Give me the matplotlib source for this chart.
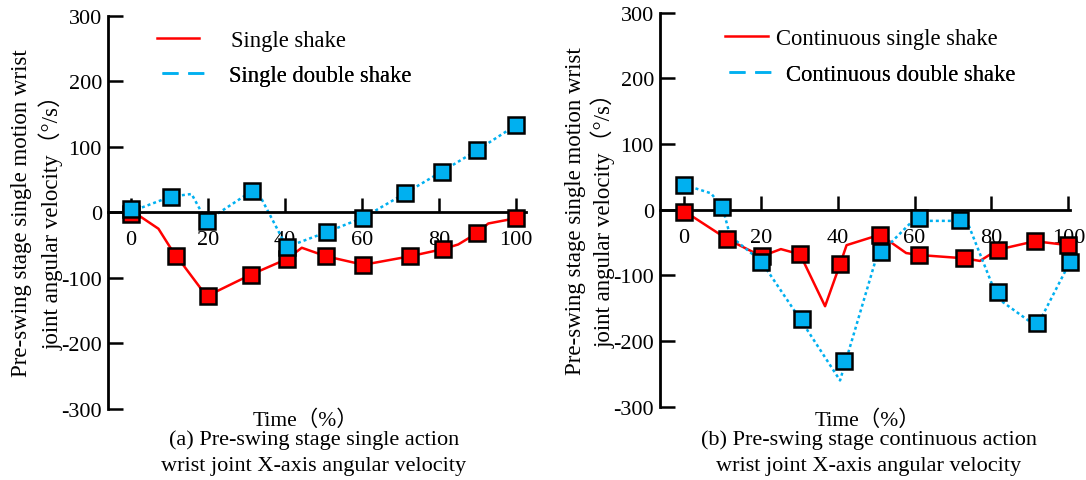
import numpy as np
import matplotlib
matplotlib.use("Agg")
import matplotlib.pyplot as plt
from matplotlib.lines import Line2D

plt.rcParams['font.family'] = ['Liberation Serif', 'Noto Sans CJK SC']
plt.rcParams['axes.unicode_minus'] = False

RED = '#FF0000'
BLUE = '#00B0F0'

# (a) single action -- line vertices and marker points
t_single_line = [0, 2.4, 7.2, 10.2, 11.8, 19.7, 31.2, 40.6, 44.4, 50.7, 60.4, 72.5, 81.1, 85, 89.8, 92.8, 100]
v_single_line = [-3, -6, -25, -53, -66, -128, -95, -71, -54, -67, -80, -67, -56, -49, -32, -17, -9]
t_single_mk = [0, 11.8, 20, 31.2, 40.6, 50.7, 60.4, 72.5, 81.1, 89.8, 100]
v_single_mk = [-2, -66, -128, -95, -71, -67, -80, -67, -56, -32, -9]

t_double_line = [0, 10.4, 15.8, 18.4, 19.7, 31.6, 34, 40.5, 50.9, 60.4, 71.2, 80.7, 90, 100]
v_double_line = [1, 24, 28, 0, -13, 33, 20, -53, -30, -8, 29, 62, 95, 133]
t_double_mk = [0, 10.4, 19.7, 31.6, 40.5, 50.9, 60.4, 71.2, 80.7, 90, 100]
v_double_mk = [5, 24, -13, 33, -53, -30, -8, 29, 62, 95, 133]

# (b) continuous action
t_cont_single_line = [0, 11.3, 20.2, 25.2, 30.2, 36.7, 40.6, 42.3, 51, 57.8, 61.2, 72.9, 77, 81.6, 91.3, 100]
v_cont_single_line = [-2, -45, -71, -60, -68, -147, -83, -54, -38, -66, -69, -74, -78, -61, -48, -54]
t_cont_single_mk = [0, 11.3, 20.2, 30.2, 40.6, 51, 61.2, 72.9, 81.6, 91.3, 100]
v_cont_single_mk = [-3, -45, -71, -68, -83, -38, -69, -74, -61, -48, -54]

t_cont_double_line = [0, 7, 10, 12, 20, 30.6, 40.6, 50.1, 59.5, 73.6, 81.6, 91.8, 100.4]
v_cont_double_line = [38, 25, 4, -40, -78, -170, -260, -72, -17, -17, -135, -178, -80]
t_cont_double_mk = [0, 10, 20, 30.6, 41.6, 51.2, 61.2, 71.7, 81.6, 91.8, 100.4]
v_cont_double_mk = [37, 4, -80, -167, -231, -64, -13, -15, -125, -172, -80]

x_ticks = [0, 20, 40, 60, 80, 100]
y_ticks = [-300, -200, -100, 0, 100, 200, 300]

ylabel_1 = 'Pre-swing stage single motion wrist'
ylabel_2 = 'joint angular velocity（°/s）'
xlabel = 'Time（%）'


def style_axes(ax, xlim):
    ax.set_xlim(*xlim)
    ax.set_ylim(-300, 300)
    for s in ['top', 'right']:
        ax.spines[s].set_visible(False)
    ax.spines['bottom'].set_position(('data', 0))
    ax.spines['left'].set_linewidth(2)
    ax.spines['bottom'].set_linewidth(2)
    ax.set_xticks(x_ticks)
    ax.set_yticks(y_ticks)
    ax.tick_params(axis='x', direction='in', length=10, width=1.8, pad=13, labelsize=16)
    ax.tick_params(axis='y', direction='in', length=11, width=1.8, pad=4, labelsize=16)
    ax.patch.set_visible(False)
    ax.text(-0.192, 0.5, ylabel_1, transform=ax.transAxes, rotation=90,
            rotation_mode='anchor', ha='center', va='baseline', fontsize=16.5)
    ax.text(-0.118, 0.49, ylabel_2, transform=ax.transAxes, rotation=90,
            rotation_mode='anchor', ha='center', va='baseline', fontsize=16.5)


def draw_series(ax, tl, vl, tm, vm, color, dotted):
    ls = (0, (1.2, 1.2)) if dotted else '-'
    ax.plot(tl, vl, color=color, lw=1.8, linestyle=ls, zorder=2, clip_on=False)
    ax.plot(tm, vm, linestyle='none', marker='s', ms=11.5, mfc=color, mec='black',
            mew=1.8, zorder=3, clip_on=False)


def one_legend(ax, handle, label, x, y, pad):
    leg = ax.legend([handle], [label], loc='upper left', bbox_to_anchor=(x, y),
                    frameon=False, fontsize=16.3, handlelength=1.88, handletextpad=pad,
                    borderpad=0, borderaxespad=0)
    ax.add_artist(leg)


fig = plt.figure(figsize=(10.86, 4.81), dpi=100)
ax1 = fig.add_axes([0.099, 0.1476, 0.385, 0.8177])
ax2 = fig.add_axes([0.6073, 0.1524, 0.3782, 0.8191])

style_axes(ax1, (-6.02, 102.5))
style_axes(ax2, (-6.375, 100.5))

draw_series(ax1, t_single_line, v_single_line, t_single_mk, v_single_mk, RED, False)
draw_series(ax1, t_double_line, v_double_line, t_double_mk, v_double_mk, BLUE, True)
draw_series(ax2, t_cont_single_line, v_cont_single_line, t_cont_single_mk, v_cont_single_mk, RED, False)
draw_series(ax2, t_cont_double_line, v_cont_double_line, t_cont_double_mk, v_cont_double_mk, BLUE, True)

red_h = Line2D([], [], color=RED, lw=1.8)
blue_h = Line2D([], [], color=BLUE, lw=1.8, dashes=(6.4, 3.9))

one_legend(ax1, red_h, 'Single shake', 0.1177, 0.9637, 1.39)
one_legend(ax1, blue_h, 'Single double shake', 0.1296, 0.8746, 1.11)
one_legend(ax2, red_h, 'Continuous single shake', 0.1595, 0.962, 0.37)
one_legend(ax2, blue_h, 'Continuous double shake', 0.1692, 0.871, 0.65)

fig.text(0.233, 0.1143, xlabel, ha='left', va='baseline', fontsize=15.5)
fig.text(0.750, 0.1143, xlabel, ha='left', va='baseline', fontsize=15.5)
fig.text(0.289, 0.0748, '(a) Pre-swing stage single action', ha='center', va='baseline', fontsize=16)
fig.text(0.289, 0.0198, 'wrist joint X-axis angular velocity', ha='center', va='baseline', fontsize=16)
fig.text(0.800, 0.0748, '(b) Pre-swing stage continuous action', ha='center', va='baseline', fontsize=16)
fig.text(0.800, 0.0198, 'wrist joint X-axis angular velocity', ha='center', va='baseline', fontsize=16)

fig.savefig('out.png', dpi=100)
